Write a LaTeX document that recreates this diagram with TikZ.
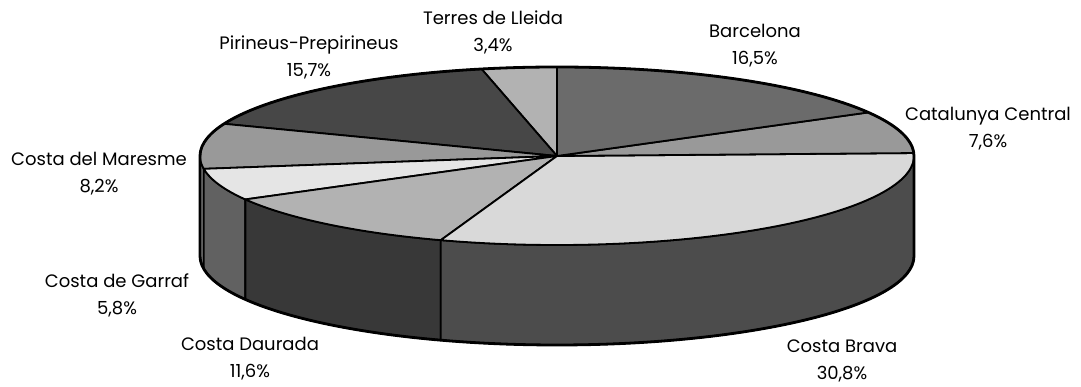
\documentclass[tikz,border=0pt]{standalone}
\usepackage{fontspec}
\setmainfont{Poppins}

\begin{document}
\begin{tikzpicture}[x=1pt,y=1pt,line join=round,
    slice/.style = {draw, line width=1.8pt},
    lbl/.style = {align=center, font=\fontsize{18}{27}\selectfont}]
  \useasboundingbox (0,0) rectangle (1081,387);
  \coordinate (c) at (557,231);

  % sides
  \filldraw[slice, fill=black!50] (c) ++(180:357pt and 89pt) arc[start angle=180, end angle=188.3, x radius=357pt, y radius=89pt]
    -- ++(0,-100) arc[start angle=188.3, end angle=180, x radius=357pt, y radius=89pt] -- cycle;
  \filldraw[slice, fill=black!62] (c) ++(188.3:357pt and 89pt) arc[start angle=188.3, end angle=209.2, x radius=357pt, y radius=89pt]
    -- ++(0,-100) arc[start angle=209.2, end angle=188.3, x radius=357pt, y radius=89pt] -- cycle;
  \filldraw[slice, fill=black!78] (c) ++(209.2:357pt and 89pt) arc[start angle=209.2, end angle=251, x radius=357pt, y radius=89pt]
    -- ++(0,-100) arc[start angle=251, end angle=209.2, x radius=357pt, y radius=89pt] -- cycle;
  \filldraw[slice, fill=black!70] (c) ++(251:357pt and 89pt) arc[start angle=251, end angle=360, x radius=357pt, y radius=89pt]
    -- ++(0,-100) arc[start angle=360, end angle=251, x radius=357pt, y radius=89pt] -- cycle;

  % top
  \filldraw[slice, fill=black!30] (c) -- ++(90:357pt and 89pt) arc[start angle=90, end angle=102.2, x radius=357pt, y radius=89pt] -- cycle;
  \filldraw[slice, fill=black!72] (c) -- ++(102.2:357pt and 89pt) arc[start angle=102.2, end angle=158.8, x radius=357pt, y radius=89pt] -- cycle;
  \filldraw[slice, fill=black!40] (c) -- ++(158.8:357pt and 89pt) arc[start angle=158.8, end angle=188.3, x radius=357pt, y radius=89pt] -- cycle;
  \filldraw[slice, fill=black!10] (c) -- ++(188.3:357pt and 89pt) arc[start angle=188.3, end angle=209.2, x radius=357pt, y radius=89pt] -- cycle;
  \filldraw[slice, fill=black!30] (c) -- ++(209.2:357pt and 89pt) arc[start angle=209.2, end angle=251, x radius=357pt, y radius=89pt] -- cycle;
  \filldraw[slice, fill=black!15] (c) -- ++(251:357pt and 89pt) arc[start angle=251, end angle=361.9, x radius=357pt, y radius=89pt] -- cycle;
  \filldraw[slice, fill=black!40] (c) -- ++(1.9:357pt and 89pt) arc[start angle=1.9, end angle=29.3, x radius=357pt, y radius=89pt] -- cycle;
  \filldraw[slice, fill=black!58] (c) -- ++(29.3:357pt and 89pt) arc[start angle=29.3, end angle=90, x radius=357pt, y radius=89pt] -- cycle;

  % outline
  \draw[line width=2.8pt] (c) ++(0:357pt and 89pt) arc[start angle=0, end angle=180, x radius=357pt, y radius=89pt]
    -- ++(0,-100) arc[start angle=180, end angle=360, x radius=357pt, y radius=89pt] -- cycle;

  % labels
  \node[lbl] (lleida) at (493,355) {Terres de Lleida\\3,4\%};
  \node[lbl] (pirineus) at (309,330) {Pirineus-Prepirineus\\15,7\%};
  \node[lbl] (bcn) at (755,341) {Barcelona\\16,5\%};
  \node[lbl] (central) at (988,258) {Catalunya Central\\7,6\%};
  \node[lbl] (maresme) at (99,213) {Costa del Maresme\\8,2\%};
  \node[lbl] (garraf) at (117,92) {Costa de Garraf\\5,8\%};
  \node[lbl] (daurada) at (250,28) {Costa Daurada\\11,6\%};
  \node[lbl] (brava) at (842,26) {Costa Brava\\30,8\%};
\end{tikzpicture}
\end{document}
